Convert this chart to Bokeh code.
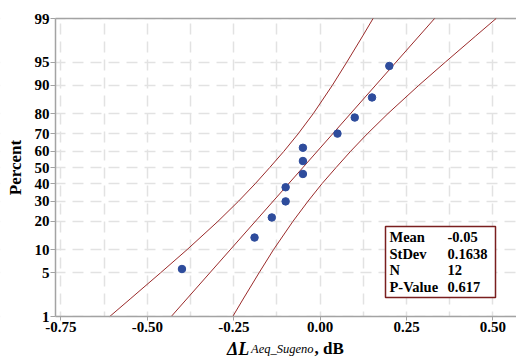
from statistics import NormalDist
from bokeh.plotting import figure
from bokeh.models import FixedTicker, Range1d, Label, BoxAnnotation
from bokeh.embed import file_html
from bokeh.resources import INLINE

# ---- data ----
obs_x = [-0.40, -0.19, -0.14, -0.10, -0.10, -0.05, -0.05, -0.05, 0.05, 0.10, 0.15, 0.20]
obs_pct = [5.65, 13.71, 21.77, 29.84, 37.90, 45.97, 54.03, 62.10, 70.16, 78.23, 86.29, 94.35]

fit_pct = [1, 99]
fit_x = [-0.431, 0.331]

band_pct = [1, 2, 5, 10, 20, 30, 40, 50, 60, 70, 80, 90, 95, 98, 99]
band_lo = [-0.609, -0.550, -0.462, -0.385, -0.296, -0.236, -0.188, -0.146,
           -0.105, -0.064, -0.020, 0.035, 0.077, 0.123, 0.153]
band_hi = [-0.253, -0.223, -0.177, -0.135, -0.079, -0.035, 0.005, 0.046,
           0.088, 0.136, 0.196, 0.285, 0.362, 0.450, 0.509]

y_tick_pct = [1, 5, 10, 20, 30, 40, 50, 60, 70, 80, 90, 95, 99]
x_ticks = [-0.75, -0.50, -0.25, 0.00, 0.25, 0.50]
x_tick_labels = ["-0.75", "-0.50", "-0.25", "0.00", "0.25", "0.50"]
x_grid = [-0.75, -0.625, -0.5, -0.375, -0.25, -0.125, 0.0, 0.125, 0.25, 0.375, 0.5]
x_lim = (-0.7659, 0.568)

stat_names = ["Mean", "StDev", "N", "P-Value"]
stat_values = ["-0.05", "0.1638", "12", "0.617"]

x_title_parts = ["\u0394L", "Aeq_Sugeno", ", dB"]

nd = NormalDist()
def probit(p):
    return round(nd.inv_cdf(p / 100.0), 6)

FONT = "Liberation Serif"
GRID = "#e2e2e2"
AXIS = "#a3a3a3"
RED = "#9a2a2a"

# page geometry (px): plot area 461 x 298, 55 px left, 18 px top, 42 px bottom margin
W, H = 516, 358
LEFT, TOP, BOTTOM = 55, 18, 42
PW, PH = W - LEFT, H - TOP - BOTTOM
x0, x1 = x_lim
y_lo, y_hi = probit(1), probit(99)
x_start = x0 - LEFT / PW * (x1 - x0)
y_start = y_lo - BOTTOM / PH * (y_hi - y_lo)
y_end = y_hi + TOP / PH * (y_hi - y_lo)

p = figure(width=W, height=H, output_backend="svg", toolbar_location=None,
           x_range=Range1d(x_start, x1), y_range=Range1d(y_start, y_end),
           min_border_left=0, min_border_right=0, min_border_top=0, min_border_bottom=0)
p.outline_line_color = None
p.background_fill_color = "white"
p.border_fill_color = "white"

# grids
p.xgrid.ticker = FixedTicker(ticks=x_grid)
p.xgrid.grid_line_color = GRID
p.xgrid.grid_line_width = 1.5
p.xgrid.grid_line_dash = "11 7"
p.ygrid.ticker = FixedTicker(ticks=[probit(v) for v in y_tick_pct])
p.ygrid.grid_line_color = GRID
p.ygrid.grid_line_width = 1.5
p.ygrid.grid_line_dash = "11 7"

# white margins (hide grid outside the plot area)
for kw in (dict(bottom=y_start, top=y_lo), dict(bottom=y_hi, top=y_end),
           dict(left=x_start, right=x0)):
    p.add_layout(BoxAnnotation(fill_color="white", fill_alpha=1.0, line_color=None,
                               level="underlay", **kw))

# top border
p.segment(x0=[x0], y0=[y_hi], x1=[x1], y1=[y_hi], line_color=AXIS, line_width=1.5)

# axes
xa = p.xaxis[0]
xa.fixed_location = y_lo
xa.bounds = (x0, x1)
xa.ticker = FixedTicker(ticks=x_ticks)
xa.major_label_overrides = {t: l for t, l in zip(x_ticks, x_tick_labels)}
ya = p.yaxis[0]
ya.fixed_location = x0
ya.bounds = (y_lo, y_hi)
yt = [probit(v) for v in y_tick_pct]
ya.ticker = FixedTicker(ticks=yt)
ya.major_label_overrides = {t: str(v) for t, v in zip(yt, y_tick_pct)}
ya.axis_label = "Percent"
ya.axis_label_text_font = FONT
ya.axis_label_text_font_style = "bold"
ya.axis_label_text_font_size = "17px"
ya.axis_label_text_color = "black"
ya.axis_label_standoff = 7
for ax in (xa, ya):
    ax.axis_line_color = AXIS
    ax.axis_line_width = 1.5
    ax.major_tick_line_color = AXIS
    ax.major_tick_in = 0
    ax.minor_tick_line_color = None
    ax.major_label_text_font = FONT
    ax.major_label_text_font_style = "bold"
    ax.major_label_text_font_size = "15px"
    ax.major_label_text_color = "black"
xa.major_tick_out = 4
xa.major_label_standoff = 1
ya.major_tick_out = 5
ya.major_label_standoff = 1

# fit and confidence bands
band_y = [probit(v) for v in band_pct]
p.line(band_lo, band_y, line_color=RED, line_width=1)
p.line(band_hi, band_y, line_color=RED, line_width=1)
p.line(fit_x, [probit(v) for v in fit_pct], line_color=RED, line_width=1)

# observations
p.scatter(obs_x, [probit(v) for v in obs_pct], size=7.5, marker="circle",
          fill_color="#2e4c9c", line_color="#2e4c9c")

# stats box (screen px from the canvas' bottom-left corner)
p.add_layout(BoxAnnotation(left=385, right=495, top=132, bottom=61,
                           left_units="screen", right_units="screen",
                           top_units="screen", bottom_units="screen",
                           fill_color="white", fill_alpha=1.0,
                           line_color="#7a1f1f", line_width=1.5, line_alpha=1.0))
rows_y = [121.5, 105, 88.5, 71.5]
for name, val, yy in zip(stat_names, stat_values, rows_y):
    for txt, xx in ((name, 389), (val, 447)):
        p.add_layout(Label(x=xx, y=yy, x_units="screen", y_units="screen", text=txt,
                           text_font=FONT, text_font_style="bold", text_font_size="14.5px",
                           text_color="black", text_baseline="alphabetic"))

# x axis title (mixed styles)
p.add_layout(Label(x=226.5, y=10, x_units="screen", y_units="screen", text=x_title_parts[0],
                   text_font=FONT, text_font_style="bold italic", text_font_size="18px",
                   text_color="black", text_baseline="alphabetic"))
p.add_layout(Label(x=250.5, y=9.5, x_units="screen", y_units="screen", text=x_title_parts[1],
                   text_font=FONT, text_font_style="italic", text_font_size="12.5px",
                   text_color="black", text_baseline="alphabetic"))
p.add_layout(Label(x=314, y=10, x_units="screen", y_units="screen", text=x_title_parts[2],
                   text_font=FONT, text_font_style="bold", text_font_size="17px",
                   text_color="black", text_baseline="alphabetic"))

open("out.html", "w").write(file_html(p, INLINE))
